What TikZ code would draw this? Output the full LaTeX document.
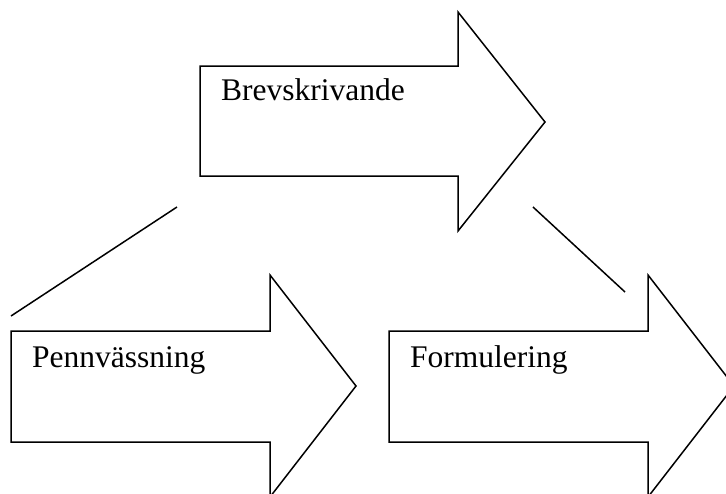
\documentclass[tikz,border=0pt]{standalone}
\usepackage{fontspec}
\setmainfont{Liberation Serif}
\usetikzlibrary{positioning,calc}
\tikzset{
  stage/.style = {draw, line width=1.5pt, line join=miter, fill=white},
  title/.style = {anchor=base west, inner sep=0pt, font=\fontsize{31.5}{36}\selectfont},
  link/.style  = {line width=1.5pt}
}

\begin{document}
\begin{tikzpicture}[x=1pt, y=-1pt]
      \useasboundingbox (0,0) rectangle (726,493);
      % top stage
      \draw[stage] (200,66) -- (458,66) -- (458,12) -- (545,122)
        -- (458,231) -- (458,176) -- (200,176) -- cycle;
      \node[title] (brev) at (221,100) {Brevskrivande};
      % lower stages
      \draw[stage] (11,331) -- (270,331) -- (270,275) -- (356,386)
        -- (270,497) -- (270,442) -- (11,442) -- cycle;
      \node[title] (penn) at (32,367) {Pennvässning};
      \draw[stage] (389,331) -- (648,331) -- (648,275) -- (734,386)
        -- (648,497) -- (648,442) -- (389,442) -- cycle;
      \node[title] (form) at (410,367) {Formulering};
      % links
      \coordinate (brev-l) at (177,207);
      \coordinate (brev-r) at (533,207);
      \coordinate (penn-t) at (11,316);
      \coordinate (form-t) at (625,292);
      \draw[link] (brev-l) -- (penn-t);
      \draw[link] (brev-r) -- (form-t);
    \end{tikzpicture}
\end{document}
